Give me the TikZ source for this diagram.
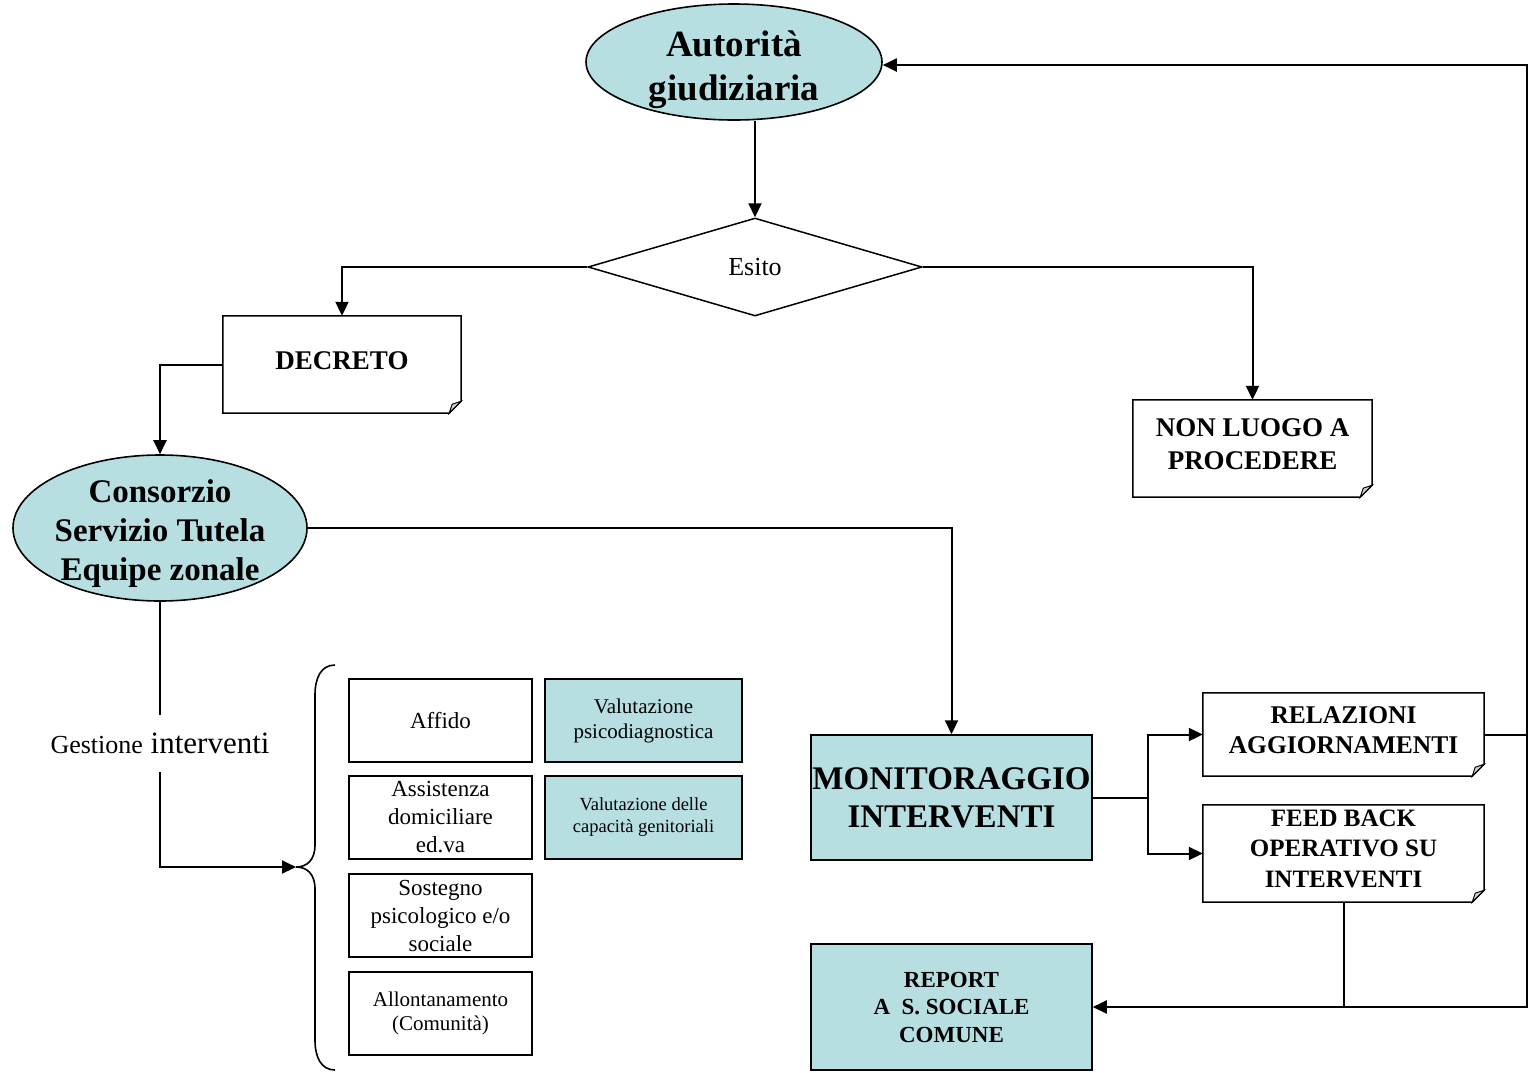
\documentclass[tikz,border=0pt]{standalone}
\usepackage{fontspec}
\setmainfont{Liberation Serif}
\usetikzlibrary{shapes.geometric,arrows.meta}
\definecolor{cy}{RGB}{183,223,226}
\newcommand\fs[2]{\fontsize{#1}{#2}\selectfont}
\newcommand\dn[1]{\rule{0pt}{#1}}
\newcommand\upd[1]{\rule[-#1]{0pt}{#1}}
\newcommand\foldbox[1]{%
  \draw[line width=1.5pt] (#1.north west) -- (#1.north east) -- ([yshift=12pt]#1.south east) -- ([xshift=-12pt]#1.south east) -- (#1.south west) -- cycle;
  \draw[line width=1pt, fill=gray!35] ([yshift=12pt]#1.south east) -- ([xshift=-9pt,yshift=9pt]#1.south east) -- ([xshift=-12pt]#1.south east) -- cycle;}
\begin{document}
\begin{tikzpicture}[x=1pt,y=-1pt,
  arr/.style={-{Triangle[length=14pt,width=13pt]}},
  conn/.style={line width=2pt},
  ell/.style={ellipse,draw,line width=1.6pt,fill=cy,inner sep=-18pt,align=center},
  bx/.style={rectangle,draw,line width=1.5pt,inner sep=0pt,align=center},
  fb/.style={rectangle,draw=none,inner sep=0pt,align=center},
]
\useasboundingbox (0,0) rectangle (1531,1072);

% top ellipse and diamond
\node[ell,minimum width=296pt,minimum height=116pt,font=\fs{37}{44}\bfseries] (auth) at (734,62) {\dn{41pt}Autorità\\giudiziaria};
\node[diamond,draw,line width=1.5pt,inner sep=0pt,aspect=3.4,minimum width=334pt,minimum height=98pt,font=\fs{26}{30}] (esito) at (755,267) {Esito};

% folded boxes
\node[fb,minimum width=238pt,minimum height=97pt,font=\fs{27}{33}\bfseries] (decreto) at (342,364.5) {DECRETO\upd{8pt}};
\foldbox{decreto}
\node[fb,minimum width=239pt,minimum height=97pt,font=\fs{27}{33}\bfseries] (nonluogo) at (1252.5,448.5) {NON LUOGO A\\PROCEDERE\upd{8pt}};
\foldbox{nonluogo}

% Consorzio
\node[ell,minimum width=294pt,minimum height=146pt,font=\fs{33}{39}\bfseries] (consorzio) at (160,528) {\dn{34pt}Consorzio\\Servizio Tutela\\Equipe zonale};

% Gestione interventi
\node[inner sep=0pt,minimum height=57pt,font=\fs{31}{36}] (gest) at (160,743.5) {{\fs{26}{30}Gestione} interventi};

% brace
\coordinate (bt) at (296,867);
\draw[line width=1.6pt] (335,665) .. controls (321,665) and (315,678) .. (315,695)
  -- (315,845) .. controls (315,860) and (307,867) .. (bt)
  .. controls (307,867) and (315,874) .. (315,889)
  -- (315,1040) .. controls (315,1057) and (321,1070) .. (335,1070);

% intervention boxes
\node[bx,minimum width=183pt,minimum height=83pt,font=\fs{23}{28}] (affido) at (440.5,720.5) {Affido};
\node[bx,minimum width=183pt,minimum height=83pt,font=\fs{23}{28}] (assist) at (440.5,817.5) {Assistenza\\domiciliare\\ed.va};
\node[bx,minimum width=183pt,minimum height=83pt,font=\fs{23}{28}] (sostegno) at (440.5,915.5) {Sostegno\\psicologico e/o\\sociale};
\node[bx,minimum width=183pt,minimum height=83pt,font=\fs{21}{24}] (allont) at (440.5,1013.5) {Allontanamento\\(Comunità)};
\node[bx,fill=cy,minimum width=197pt,minimum height=83pt,font=\fs{21}{25}] (val1) at (643.5,720.5) {Valutazione\\psicodiagnostica};
\node[bx,fill=cy,minimum width=197pt,minimum height=83pt,font=\fs{18.5}{22}] (val2) at (643.5,817.5) {Valutazione delle\\capacità genitoriali};

% monitoring
\node[bx,fill=cy,minimum width=281pt,minimum height=125pt,font=\fs{33}{38}\bfseries] (monit) at (951.5,797.5) {MONITORAGGIO\\INTERVENTI};
\node[fb,minimum width=281pt,minimum height=83pt,font=\fs{25.5}{30}\bfseries] (rel) at (1343.5,734.5) {RELAZIONI\\AGGIORNAMENTI\upd{8pt}};
\foldbox{rel}
\node[fb,minimum width=281pt,minimum height=97pt,font=\fs{25}{30.5}\bfseries] (feed) at (1343.5,853.5) {FEED BACK\\OPERATIVO SU\\INTERVENTI\upd{10pt}};
\foldbox{feed}
\node[bx,fill=cy,minimum width=281pt,minimum height=126pt,font=\fs{23}{27.5}\bfseries] (report) at (951.5,1007) {REPORT\\A\ \ S. SOCIALE\\COMUNE};

% connectors
\draw[conn,arr] (esito.north |- auth.south) -- (esito.north);
\draw[conn,arr] (esito.west) -| (decreto.north);
\draw[conn,arr] (esito.east) -| (nonluogo.north);
\draw[conn,arr] (decreto.west) -| (consorzio.north);
\draw[conn,arr] (consorzio.east) -| (monit.north);
\draw[conn] (consorzio.south) -- (gest.north);
\draw[conn,arr] (gest.south) |- (bt);

\coordinate (split) at (1148,797.5);
\draw[conn] (monit.east) -- (split);
\draw[conn,arr] (split) |- (rel.west);
\draw[conn,arr] (split) |- (feed.west);

\coordinate (ctop) at (1527,65);
\coordinate (cbot) at (1527,1007);
\draw[conn,arr] (rel.east) -| (ctop) -- (auth.east |- ctop);
\draw[conn,arr] (rel.east) -| (cbot) -- (report.east);
\draw[conn] (feed.south) -- (feed.south |- report.east);
\end{tikzpicture}
\end{document}
